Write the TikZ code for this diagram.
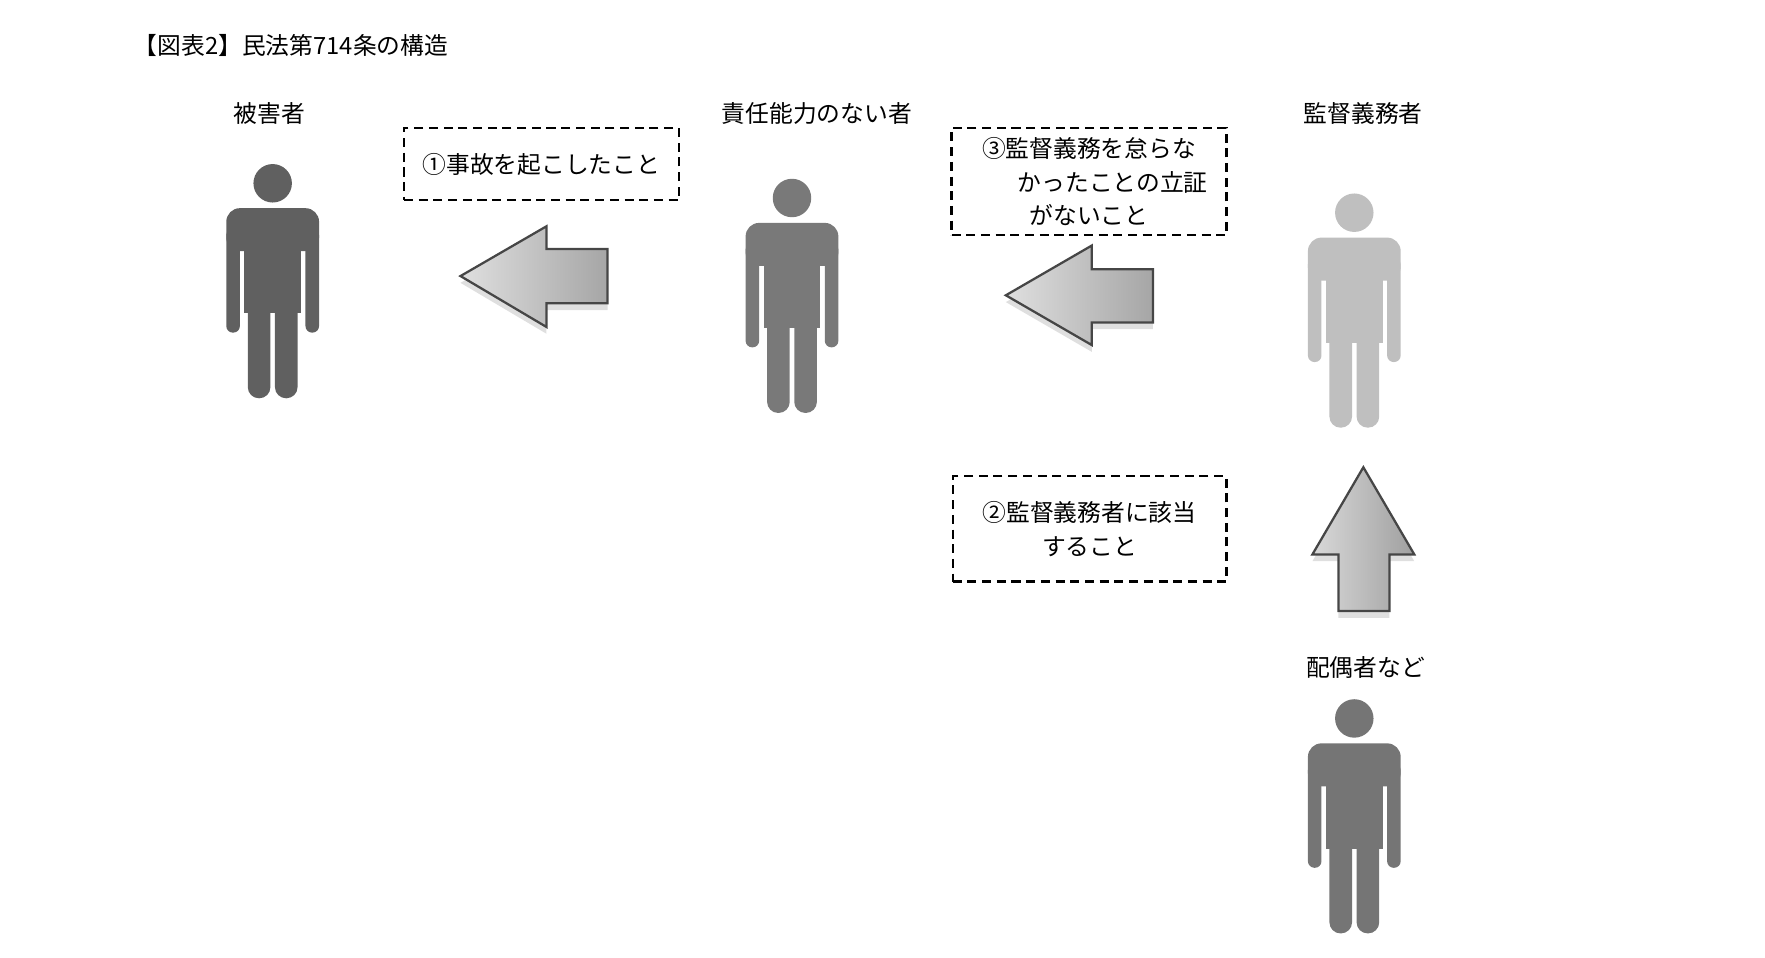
\documentclass[tikz,border=0pt]{standalone}
\usepackage{fontspec}
\setmainfont{Noto Sans CJK JP}
\usetikzlibrary{shadows}
\tikzset{
  lbl/.style={font=\fontsize{10.5}{13}\selectfont, inner sep=0pt},
  dbox/.style={draw, dashed, line width=1pt, dash pattern=on 4pt off 2.5pt, font=\fontsize{10.5}{15}\selectfont, align=center, inner sep=0pt},
  blk/.style={draw=gray!55!black, line width=1pt, left color=gray!25, right color=gray!70, drop shadow={opacity=0.25, shadow xshift=0pt, shadow yshift=-3pt}},
  pics/person/.style={code={
    \fill[#1] (0,0) circle (17);
    \fill[#1, rounded corners=6pt] (-41,60) rectangle (41,22);
    \fill[#1, rounded corners=2.9pt] (-41,40) rectangle (-29,132);
    \fill[#1, rounded corners=2.9pt] (29,40) rectangle (41,132);
    \fill[#1] (-25,40) rectangle (25,115);
    \fill[#1, rounded corners=4.9pt] (-22,100) rectangle (-2,190);
    \fill[#1, rounded corners=4.9pt] (2,100) rectangle (22,190);
  }}
}
\begin{document}
\begin{tikzpicture}[x=0.5pt,y=-0.5pt]
\useasboundingbox (0,0) rectangle (1560,846);
\node[lbl, anchor=west] (title) at (118,40) {【図表2】民法第714条の構造};
\node[lbl] (l1) at (238,100) {被害者};
\node[lbl] (l2) at (722,100) {責任能力のない者};
\node[lbl] (l3) at (1205,100) {監督義務者};
\node[lbl] (l4) at (1207,590) {配偶者など};
\pic at (241,162) {person={gray!75!black}};
\pic at (700,175) {person={gray!95!black}};
\pic at (1197,188) {person={gray!50}};
\pic at (1197,635) {person={gray!92!black}};
\node[dbox, minimum width=243*0.5pt, minimum height=64*0.5pt] (b1) at (478.5,145) {①事故を起こしたこと};
\node[dbox, minimum width=243*0.5pt, minimum height=95*0.5pt] (b3) at (962.5,160.5) {③監督義務を怠らな\\\hspace*{2em}かったことの立証\\がないこと};
\node[dbox, minimum width=242*0.5pt, minimum height=93*0.5pt] (b2) at (963,467.5) {②監督義務者に該当\\すること};
\path[blk] (407,244) -- (483,200) -- (483,220) -- (537,220) -- (537,268) -- (483,268) -- (483,289) -- cycle;
\path[blk] (889,261) -- (965,217) -- (965,238) -- (1019,238) -- (1019,285) -- (965,285) -- (965,305) -- cycle;
\path[blk, left color=gray!30, right color=gray!75] (1205,413) -- (1250,490) -- (1228,490) -- (1228,540) -- (1183,540) -- (1183,490) -- (1160,490) -- cycle;
\end{tikzpicture}
\end{document}
